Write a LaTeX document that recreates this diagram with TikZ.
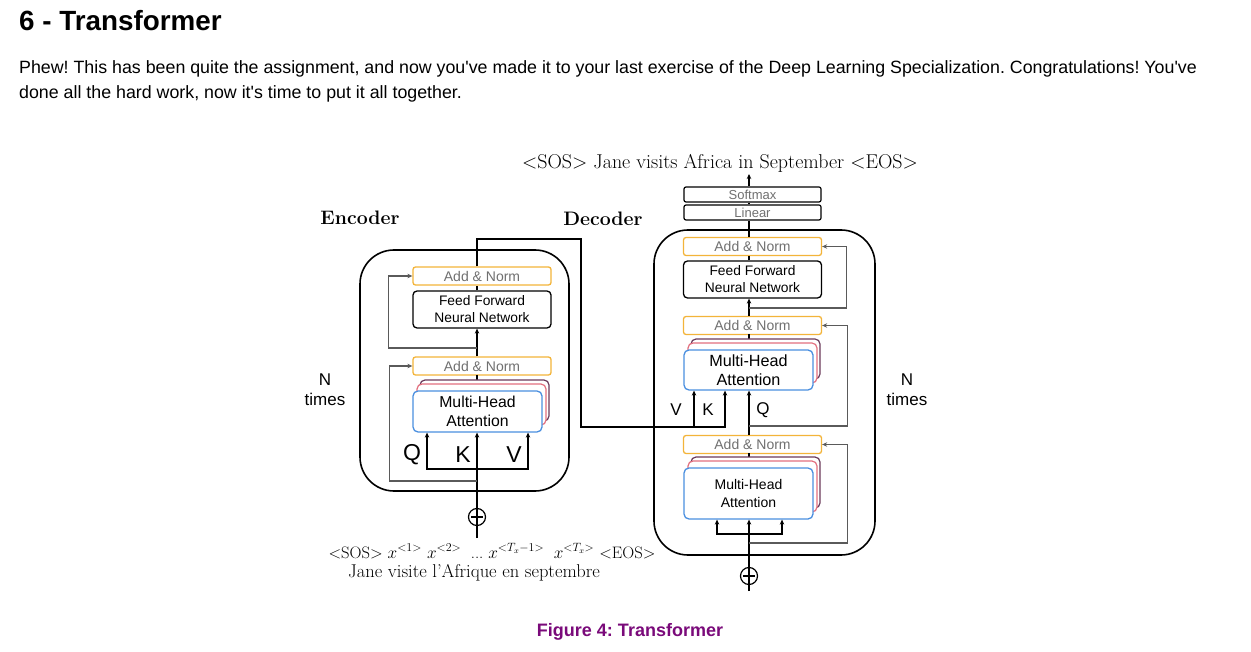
\documentclass[tikz,border=0pt]{standalone}
\usepackage{fontspec}
\newfontfamily\arial{Liberation Sans}
\usetikzlibrary{arrows.meta,calc}
\definecolor{anorange}{HTML}{F3B43A}
\definecolor{txtgray}{HTML}{707070}
\definecolor{mhablue}{HTML}{4A8FE0}
\definecolor{mhared}{HTML}{E3707F}
\definecolor{mhapurple}{HTML}{6A3A5A}
\definecolor{resgray}{HTML}{5A5A5A}
\definecolor{cappurple}{HTML}{7A0A7A}
\frenchspacing
\begin{document}
\begin{tikzpicture}[x=1pt,y=-1pt,
  an/.style={draw=anorange, line width=1.3pt, rounded corners=2.5pt, fill=white, minimum width=138pt, minimum height=18pt, inner sep=0pt, text=txtgray, font=\arial\fontsize{14}{15}\selectfont},
  sl/.style={draw=black, line width=1.2pt, rounded corners=2pt, fill=white, minimum width=137pt, minimum height=15pt, inner sep=0pt, text=txtgray, font=\arial\fontsize{13}{13}\selectfont},
  ffbox/.style={draw=black, line width=1.3pt, rounded corners=4pt, fill=white, minimum width=138pt, minimum height=37pt, inner sep=0pt, align=center, font=\arial\fontsize{13.8}{17}\selectfont},
  mha/.style={draw=mhablue, line width=1.3pt, rounded corners=5pt, fill=white, minimum width=129pt, inner sep=0pt, align=center},
  stp/.style={draw=mhapurple, line width=1.2pt, rounded corners=5pt, fill=white},
  str/.style={draw=mhared, line width=1.2pt, rounded corners=5pt, fill=white},
  outer/.style={draw=black, line width=1.6pt, rounded corners=34pt},
  ln/.style={draw=black, line width=1.2pt},
  arr/.style={ln, -{Stealth[length=5pt,width=4.5pt]}},
  resarr/.style={draw=resgray, line width=1.2pt, -{Stealth[length=5pt,width=4.5pt]}},
  plus/.style={circle, draw=black, line width=1.2pt, minimum size=17pt, inner sep=0pt,
    path picture={\draw[line width=1.2pt] (path picture bounding box.north) -- (path picture bounding box.south)
      ([xshift=-6pt]path picture bounding box.center) -- ([xshift=6pt]path picture bounding box.center);}},
  lbl/.style={font=\arial\fontsize{17}{20}\selectfont, inner sep=0pt, align=center},
]
\useasboundingbox (0,0) rectangle (1251,652);
\fill[white] (0,0) rectangle (1251,652);

% header text
\node[anchor=base west, inner sep=0pt] (title) at (19,31) {\arial\bfseries\fontsize{27.8}{30}\selectfont 6 - Transformer};
\node[anchor=base west, inner sep=0pt] (para1) at (19,74) {\arial\fontsize{17.8}{20}\selectfont Phew! This has been quite the assignment, and now you've made it to your last exercise of the Deep Learning Specialization. Congratulations! You've};
\node[anchor=base west, inner sep=0pt] (para2) at (19,99) {\arial\fontsize{17.8}{20}\selectfont done all the hard work, now it's time to put it all together.};

% outer boxes
\draw[outer] (360,250) rectangle (569,491);
\draw[outer] (654,230) rectangle (875,555);

% labels
\node[inner sep=0pt] (enclbl) at (360,218) {\bfseries\fontsize{19.5}{22}\selectfont Encoder};
\node[inner sep=0pt] (declbl) at (603,219) {\bfseries\fontsize{19.5}{22}\selectfont Decoder};
\node[lbl] (nl) at (325,390) {N\\times};
\node[lbl] (nr) at (907,390) {N\\times};

% ---------------- Encoder ----------------
\node[an] (ean1) at (482,276) {Add \& Norm};
\node[ffbox] (eff) at (482,309.5) {Feed Forward\\Neural Network};
\node[an] (ean2) at (482,366) {Add \& Norm};
\draw[ln] (477,375) -- (477,381);
\draw[stp] (420,380) rectangle (549,421);
\draw[str] (417,384) rectangle (546,425);
\node[mha, minimum height=41pt, font=\arial\fontsize{15.8}{19}\selectfont] (emha) at (477.5,411.5) {Multi-Head\\Attention};
\node[plus] (eplus) at (477,517) {};
\coordinate (ein) at (477,538);
\draw[ln] (ein) -- (eplus.south);
\draw[arr] (eplus.north) -- (eplus.north |- emha.south);
\coordinate (eqv) at (477,469);
\draw[arr] (eqv) -| ([xshift=-50.5pt]emha.south);
\draw[arr] (eqv) -| ([xshift=50.5pt]emha.south);
\node[lbl, font=\arial\fontsize{23}{24}\selectfont] (eq) at (412,455) {Q};
\node[lbl, font=\arial\fontsize{23}{24}\selectfont] (ek) at (463,455) {K};
\node[lbl, font=\arial\fontsize{23}{24}\selectfont] (ev) at (514,455) {V};
\coordinate (er1) at (477,481);
\draw[resarr] (er1) -| ([xshift=-23pt]ean2.west) -- (ean2.west);
\draw[arr] (eplus |- ean2.north) -- (eplus |- eff.south);
\coordinate (er2) at (477,348);
\draw[resarr] (er2) -| ([xshift=-24pt]ean1.west) -- (ean1.west);
\draw[ln] (eplus |- eff.north) -- (eplus |- ean1.south);

% ---------------- Decoder ----------------
\node[inner sep=0pt] (outtxt) at (720,163) {\fontsize{20}{22}\selectfont <SOS> Jane visits Africa in September <EOS>};
\node[sl] (soft) at (752.5,194.5) {Softmax};
\node[sl] (lin) at (752.5,212.5) {Linear};
\node[an] (dan1) at (752.5,246.5) {Add \& Norm};
\node[ffbox] (dff) at (752.5,279.5) {Feed Forward\\Neural Network};
\node[an] (dan2) at (752.5,325.5) {Add \& Norm};
\draw[ln] (749,334) -- (749,340);
\draw[stp] (691,339) rectangle (820,379);
\draw[str] (688,343) rectangle (817,383);
\node[mha, minimum height=40pt, font=\arial\fontsize{16.2}{19}\selectfont] (dmha1) at (748.5,370) {Multi-Head\\Attention};
\node[an] (dan3) at (752.5,444.5) {Add \& Norm};
\draw[ln] (749,453) -- (749,458);
\draw[stp] (691,457) rectangle (820,508);
\draw[str] (688,461) rectangle (817,512);
\node[mha, minimum height=51pt, font=\arial\fontsize{14}{18}\selectfont] (dmha2) at (748.5,493.5) {Multi-Head\\Attention};
\node[plus] (dplus) at (749,576) {};
\coordinate (din) at (749,591);
\draw[ln] (din) -- (dplus.south);
\draw[arr] (dplus.north) -- (dplus.north |- dmha2.south);
\coordinate (dbar) at (749,534);
\draw[arr] (dbar) -| ([xshift=-31.5pt]dmha2.south);
\draw[arr] (dbar) -| ([xshift=33.5pt]dmha2.south);
\coordinate (dr1) at (749,543);
\draw[resarr] (dr1) -| ([xshift=25.5pt]dan3.east) -- (dan3.east);
\draw[arr] (dplus |- dan3.north) -- (dplus |- dmha1.south);
\coordinate (dr2) at (749,426);
\draw[resarr] (dr2) -| ([xshift=25.5pt]dan2.east) -- (dan2.east);
\draw[arr] (dplus |- dan2.north) -- (dplus |- dff.south);
\coordinate (dr3) at (749,308);
\draw[resarr] (dr3) -| ([xshift=24.5pt]dan1.east) -- (dan1.east);
\draw[ln] (dplus |- dff.north) -- (dplus |- dan1.south);
\draw[ln] (dplus |- dan1.north) -- (dplus |- lin.south);
\draw[ln] (dplus |- lin.north) -- (dplus |- soft.south);
\coordinate (outtip) at (749,174);
\draw[arr] (dplus |- soft.north) -- (outtip);
\node[lbl] (dv) at (676,410) {V};
\node[lbl] (dk) at (708,410) {K};
\node[lbl] (dq) at (763,410) {Q};

% encoder -> decoder
\coordinate (c1) at (581,239);
\coordinate (c2) at (581,427);
\draw[arr] (eplus |- ean1.north) |- (c1) -- (c2) -| ([xshift=-23.5pt]dmha1.south);
\coordinate (vb) at (694,427);
\draw[arr] (vb) -- (vb |- dmha1.south);

% input text
\node[inner sep=0pt] (intxt) at (492,551) {\fontsize{16.6}{20}\selectfont <SOS> $x^{<1>}$ $x^{<2>}$ \;... $x^{<T_x-1>}$\; $x^{<T_x>}$ <EOS>};
\node[inner sep=0pt] (intxt2) at (474,573) {\fontsize{18.5}{20}\selectfont Jane visite l’Afrique en septembre};

% caption
\node[inner sep=0pt, text=cappurple] (cap) at (630,632) {\arial\bfseries\fontsize{18}{20}\selectfont Figure 4: Transformer};
\end{tikzpicture}
\end{document}
